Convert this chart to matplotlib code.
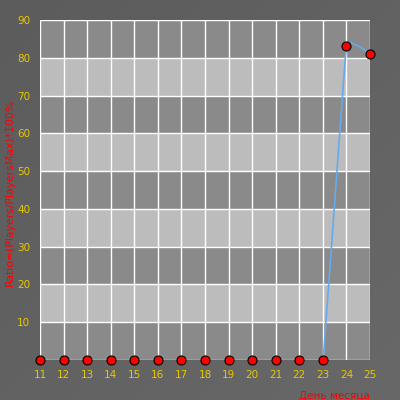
import numpy as np
import matplotlib
matplotlib.use("Agg")
import matplotlib.pyplot as plt
from matplotlib.path import Path
from matplotlib.patches import PathPatch

days = [11, 12, 13, 14, 15, 16, 17, 18, 19, 20, 21, 22, 23, 24, 25]
ratio = [0, 0, 0, 0, 0, 0, 0, 0, 0, 0, 0, 0, 0, 83, 81]
yticks = [10, 20, 30, 40, 50, 60, 70, 80, 90]

fig = plt.figure(figsize=(4, 4), dpi=100)
fig.patch.set_facecolor("#626262")
bg = fig.add_axes([0, 0, 1, 1], zorder=-10)
grad = np.linspace(0, 1, 256).reshape(1, -1) + np.linspace(0, 1, 256).reshape(-1, 1)
bg.imshow(grad, cmap=matplotlib.colors.LinearSegmentedColormap.from_list("g", ["#5c5c5c", "#686868"]),
          aspect="auto", extent=[0, 1, 0, 1])
bg.axis("off")

ax = fig.add_axes([0.1, 0.1, 0.825, 0.85])
ax.set_xlim(11, 25)
ax.set_ylim(0, 90)
for i in range(9):
    ax.axhspan(i * 10, i * 10 + 10, color="#8a8a8a" if i % 2 == 0 else "#bcbcbc", zorder=0, lw=0)
for d in days:
    ax.axvline(d, color="white", lw=1, zorder=1)
for y in [0] + yticks:
    ax.axhline(y, color="white", lw=1, zorder=1)
for s in ax.spines.values():
    s.set_visible(False)

# smooth line (cardinal spline -> Bezier) through data points
k = 0.035
verts = [(days[0], ratio[0])]
codes = [Path.MOVETO]
n = len(days)
for i in range(n - 1):
    p0 = np.array([days[max(i - 1, 0)], ratio[max(i - 1, 0)]], float)
    p1 = np.array([days[i], ratio[i]], float)
    p2 = np.array([days[i + 1], ratio[i + 1]], float)
    p3 = np.array([days[min(i + 2, n - 1)], ratio[min(i + 2, n - 1)]], float)
    c1 = p1 + (p2 - p0) * k
    c2 = p2 - (p3 - p1) * k
    verts += [tuple(c1), tuple(c2), tuple(p2)]
    codes += [Path.CURVE4] * 3
ax.add_patch(PathPatch(Path(verts, codes), fill=False, edgecolor="#66aaee", lw=1.2, zorder=3))
ax.plot(days, ratio, ls="none", marker="o", ms=6.5, mfc="#ff0000", mec="black", mew=0.8, zorder=4, clip_on=False)

ax.set_xticks(days)
ax.set_xticklabels([str(d) for d in days])
ax.set_yticks(yticks)
ax.set_yticklabels([str(y) for y in yticks])
ax.tick_params(length=0, colors="#e8c800", labelsize=7.5, pad=7)
ax.set_xlabel("День месяца", color="#ff0000", fontsize=7.5, loc="right", labelpad=8)
ax.set_ylabel("Ratio=(Players/PlayersMax)*100%", color="#ff0000", fontsize=7.8)
ax.yaxis.set_label_coords(-0.076, 0.494)

fig.savefig("out.png", dpi=100, facecolor=fig.get_facecolor())
